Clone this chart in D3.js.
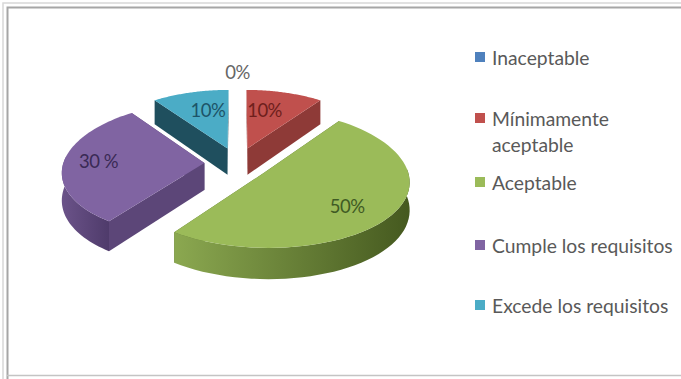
<!DOCTYPE html>
<html>
<head>
<meta charset="utf-8">
<script src="https://cdn.jsdelivr.net/npm/d3@7"></script>
<style>
  html, body { margin: 0; padding: 0; background: #fff; }
  svg { display: block; }
  text { font-family: Lato, "Open Sans", sans-serif; }
</style>
</head>
<body>
<svg id="chart" width="681" height="379"></svg>
<script>
// Chart data
const categories = ["Inaceptable", "Mínimamente aceptable", "Aceptable", "Cumple los requisitos", "Excede los requisitos"];
const values = [0, 10, 50, 30, 10];
const valueLabels = ["0%", "10%", "50%", "30 %", "10%"];

// Face colours per category
const topColors = ["#4f81bd", "#c0504d", "#9bbb59", "#8064a2", "#4bacc6"];
const wallColors = ["#385d8a", "#8e3a37", "#556b2f", "#5c4678", "#1f4f5e"];
const rimLight = ["#4f81bd", "#a04542", "#8ba850", "#6b5389", "#2f7a8f"];
const rimDark = ["#385d8a", "#7a2f2c", "#45591f", "#4f3b6b", "#1f4f5e"];
const labelColors = ["#666666", "#6e1f1c", "#3f5a24", "#3a2a55", "#1d5468"];

// Projection of the tilted pie plane onto the page, with mild perspective
const cx = 237.5, cy = 163, rx = 141, ry = 66.6;
const perspectiveX = 0.12, perspectiveY = 0.094, thickness = 27, explode = 0.235;
const labelRadius = [1.33, 0.655, 0.71, 0.755, 0.66];
const labelSpin = [0, -0.1, 0.098, 0.04, 0.07];

function project(angle, radius, mid) {
  const u = radius * Math.sin(angle) + explode * Math.sin(mid);
  const v = radius * Math.cos(angle) + explode * Math.cos(mid);
  const w = 1 / (1 + perspectiveX * v);
  return { x: cx + rx * u * w, y: cy - ry * v / (1 + perspectiveY * v), drop: thickness * w };
}

const svg = d3.select("#chart");
const defs = svg.append("defs");
const line = d3.line().x(d => d[0]).y(d => d[1]);
const arcs = d3.pie().sort(null).value(d => d)(values);

// Frame: a pale outer rule and a grey inner rule
const frame = svg.append("g").attr("fill", "none");
frame.append("path").attr("d", "M3,379V3H681").attr("stroke", "#d8d8d8").attr("stroke-width", 1.5);
frame.append("path").attr("d", "M7.5,379V7.5H681").attr("stroke", "#a6a6a6").attr("stroke-width", 2);
frame.append("path").attr("d", "M7,375.5H681").attr("stroke", "#c4c4c4").attr("stroke-width", 1.5);

// Slices are painted back to front
const paintOrder = [4, 1, 3, 2];
const pie = svg.append("g");

paintOrder.forEach(i => {
  const a = arcs[i];
  if (a.value === 0) return;
  const mid = (a.startAngle + a.endAngle) / 2;
  const g = pie.append("g");
  const steps = d3.range(0, 61).map(s => a.startAngle + (a.endAngle - a.startAngle) * s / 60);
  const rimTop = steps.map(t => project(t, 1, mid));
  const apex = project(0, 0, mid);

  // Cut walls: the slice's own top and rim cover whichever one faces away
  [a.startAngle, a.endAngle]
    .map(t => project(t, 1, mid))
    .sort((p, q) => p.y - q.y)
    .forEach(p => {
      g.append("path")
        .attr("d", line([[apex.x, apex.y], [p.x, p.y], [p.x, p.y + p.drop], [apex.x, apex.y + apex.drop]]) + "Z")
        .attr("fill", wallColors[i]);
    });

  // Outer rim, front-facing arc only, shaded left to right
  const front = steps.filter(t => Math.cos(t) < 0.1).map(t => project(t, 1, mid));
  if (front.length > 1) {
    const gradId = "rim" + i;
    const grad = defs.append("linearGradient").attr("id", gradId)
      .attr("gradientUnits", "objectBoundingBox").attr("x1", 0).attr("x2", 1).attr("y1", 0).attr("y2", 0);
    grad.append("stop").attr("offset", 0).attr("stop-color", rimLight[i]);
    grad.append("stop").attr("offset", 1).attr("stop-color", rimDark[i]);
    const rimPts = front.map(p => [p.x, p.y])
      .concat(front.slice().reverse().map(p => [p.x, p.y + p.drop]));
    g.append("path").attr("d", line(rimPts) + "Z").attr("fill", `url(#${gradId})`);
  }

  // Top face
  const topPts = [[apex.x, apex.y]].concat(rimTop.map(p => [p.x, p.y]));
  g.append("path").attr("d", line(topPts) + "Z").attr("fill", topColors[i]);
});

// Value labels sit on the slices along each mid-angle
arcs.forEach((a, i) => {
  const mid = (a.startAngle + a.endAngle) / 2;
  const p = project(mid + labelSpin[i], labelRadius[i], mid);
  svg.append("text")
    .attr("x", p.x).attr("y", p.y)
    .attr("text-anchor", "middle").attr("dominant-baseline", "central")
    .attr("font-size", 18.5).attr("letter-spacing", -0.5)
    .attr("fill", labelColors[i])
    .text(valueLabels[i]);
});

// Legend, with the long entry wrapped on two lines
const legendRows = [57, 118, 182, 245, 305];
const legendLines = categories.map(c => c === "Mínimamente aceptable" ? ["Mínimamente", "aceptable"] : [c]);
const legend = svg.append("g");
categories.forEach((c, i) => {
  legend.append("rect")
    .attr("x", 475).attr("y", legendRows[i] - 5).attr("width", 10).attr("height", 10)
    .attr("fill", topColors[i]);
  legendLines[i].forEach((t, k) => {
    legend.append("text")
      .attr("x", 492).attr("y", legendRows[i] + k * 26)
      .attr("dominant-baseline", "central")
      .attr("font-size", 19.3).attr("fill", "#595959")
      .text(t);
  });
});
</script>
</body>
</html>
